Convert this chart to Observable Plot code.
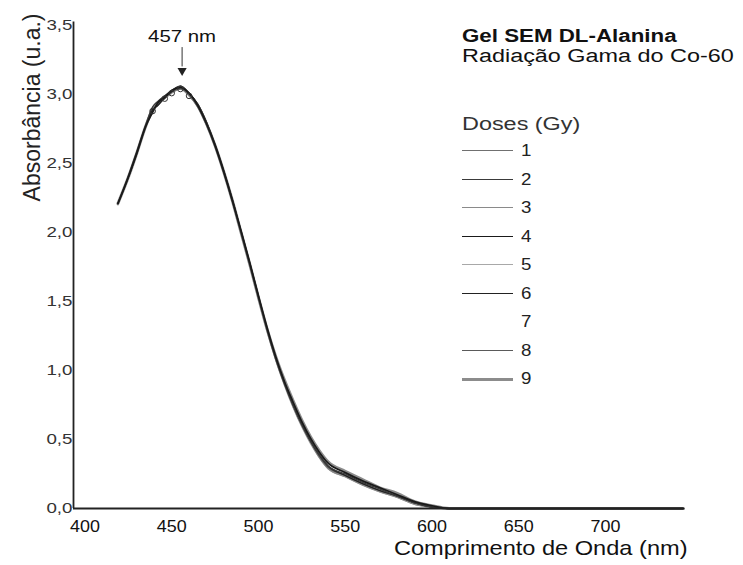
<!DOCTYPE html>
<html>
<head>
<meta charset="utf-8">
<script src="https://cdn.jsdelivr.net/npm/d3@7"></script>
<script src="https://cdn.jsdelivr.net/npm/@observablehq/plot@0.6"></script>
<style>
  html, body { margin: 0; padding: 0; background: #fff; }
  #wrap { position: relative; width: 743px; height: 565px; font-family: "Liberation Sans", Arial, sans-serif; overflow: hidden; }
  #wrap svg { position: absolute; left: 0; top: 0; }
  .lg { position: absolute; white-space: nowrap; transform-origin: 0 50%; line-height: 1; }
  .sw { position: absolute; height: 0; }
</style>
</head>
<body>
<div id="wrap"></div>
<script>
// ---- data ----
const wavelength = [419,425,430,435,439,442,446,450,455,460,465,470,475,480,485,490,495,500,505,510,515,520,525,530,535,540,550,560,570,580,590,600,610,650,700,745];
const dose1 = [2.21,2.40,2.58,2.77,2.89,2.93,2.98,3.02,3.05,3.00,2.92,2.79,2.63,2.44,2.23,2.00,1.77,1.53,1.29,1.08,0.90,0.74,0.60,0.48,0.38,0.30,0.24,0.18,0.13,0.09,0.04,0.01,0.00,0.00,0.00,0.00];
const dose2 = [2.21,2.41,2.59,2.78,2.91,2.95,2.99,3.03,3.06,3.01,2.93,2.80,2.63,2.44,2.23,2.00,1.77,1.53,1.30,1.09,0.91,0.75,0.61,0.49,0.39,0.31,0.25,0.19,0.14,0.09,0.04,0.01,0.00,0.00,0.00,0.00];
const dose3 = [2.20,2.40,2.58,2.76,2.88,2.92,2.97,3.01,3.04,2.99,2.91,2.78,2.62,2.43,2.22,1.99,1.76,1.52,1.29,1.08,0.90,0.74,0.60,0.48,0.37,0.29,0.23,0.17,0.12,0.08,0.03,0.01,0.00,0.00,0.00,0.00];
const dose4 = [2.21,2.40,2.58,2.77,2.87,2.94,2.98,3.03,3.05,3.01,2.92,2.79,2.63,2.44,2.23,2.01,1.78,1.54,1.31,1.10,0.92,0.77,0.63,0.51,0.41,0.33,0.26,0.20,0.15,0.10,0.05,0.02,0.00,0.00,0.00,0.00];
const dose5 = [2.22,2.41,2.59,2.78,2.90,2.93,2.99,3.02,3.05,3.00,2.92,2.79,2.62,2.43,2.22,2.00,1.76,1.52,1.28,1.07,0.89,0.73,0.59,0.47,0.37,0.29,0.23,0.17,0.12,0.08,0.03,0.01,0.00,0.00,0.00,0.00];
const dose6 = [2.21,2.40,2.58,2.77,2.89,2.92,2.98,3.02,3.06,3.01,2.93,2.80,2.64,2.45,2.24,2.01,1.78,1.54,1.30,1.09,0.91,0.75,0.61,0.49,0.39,0.31,0.24,0.18,0.13,0.09,0.04,0.01,0.00,0.00,0.00,0.00];
const dose7 = [2.21,2.40,2.58,2.77,2.89,2.93,2.98,3.02,3.05,3.00,2.92,2.79,2.63,2.44,2.23,2.00,1.77,1.53,1.29,1.08,0.90,0.74,0.60,0.48,0.38,0.30,0.24,0.18,0.13,0.09,0.04,0.01,0.00,0.00,0.00,0.00];
const dose8 = [2.21,2.40,2.57,2.76,2.88,2.93,2.97,3.02,3.04,3.00,2.91,2.78,2.62,2.43,2.22,1.99,1.76,1.52,1.29,1.08,0.90,0.75,0.61,0.49,0.38,0.30,0.24,0.18,0.13,0.09,0.04,0.01,0.00,0.00,0.00,0.00];
const dose9 = [2.21,2.40,2.58,2.77,2.89,2.94,2.98,3.02,3.05,3.00,2.92,2.79,2.63,2.44,2.23,2.00,1.77,1.53,1.30,1.10,0.93,0.78,0.64,0.52,0.42,0.34,0.27,0.21,0.15,0.11,0.05,0.02,0.00,0.00,0.00,0.00];
const doseLabels = ["1","2","3","4","5","6","7","8","9"];
const xTicks = [400,450,500,550,600,650,700];
const yTicks = [0,0.5,1.0,1.5,2.0,2.5,3.0,3.5];
const peakWavelength = 456;
const peakLabel = "457 nm";
const markerWavelengths = [439,446,450,455,460];
const xTitle = "Comprimento de Onda (nm)";
const yTitle = "Absorbância (u.a.)";
const legendTitle = "Gel SEM DL-Alanina";
const legendSubtitle = "Radiação Gama do Co-60";
const legendHeader = "Doses (Gy)";

// ---- styles ----
const series = [dose1,dose2,dose3,dose4,dose5,dose6,dose7,dose8,dose9];
const strokeColors = ["#707070","#3a3a3a","#8a8a8a","#1a1a1a","#a8a8a8","#222222","#ffffff","#5a5a5a","#8c8c8c"];
const strokeWidths = [1.3,1.3,1.3,1.7,1.2,1.3,1.3,1.1,3];
const drawOrder = [6,8,4,2,0,7,5,1,3];

const lineMarks = drawOrder.map(i => Plot.line(
  wavelength.map((w, j) => [w, series[i][j]]),
  {stroke: strokeColors[i], strokeWidth: strokeWidths[i], curve: "monotone-x"}
));

const markerData = markerWavelengths.map(w => [w, dose3[wavelength.indexOf(w)]]);

const plot = Plot.plot({
  width: 743,
  height: 565,
  marginLeft: 73,
  marginRight: 60,
  marginTop: 25,
  marginBottom: 57,
  style: {fontFamily: "Liberation Sans, Arial, sans-serif", color: "#222", background: "white"},
  x: {domain: [393.4, 745]},
  y: {domain: [0, 3.5]},
  marks: [
    Plot.axisX({ticks: xTicks, tickSize: 0, tickPadding: 12, fontSize: 16, label: null, tickFormat: d => String(d), fill: "#111"}),
    Plot.axisY({ticks: yTicks, tickSize: 0, tickPadding: 1, fontSize: 15, label: null, tickFormat: d => d.toFixed(1).replace(".", ","), fill: "#333"}),
    ...lineMarks,
    Plot.dot(markerData, {r: 2.8, stroke: "#333", strokeWidth: 1, fill: "none"}),
    Plot.ruleY([0], {stroke: "#222", strokeWidth: 1.8}),
    Plot.ruleX([393.4], {y1: 0, y2: 3.525, stroke: "#222", strokeWidth: 1.8}),
    Plot.ruleX([peakWavelength], {y1: 3.34, y2: 3.2, stroke: "#333", strokeWidth: 1}),
    Plot.dot([peakWavelength], {x: d => d, y: () => 3.172, symbol: "triangle", rotate: 180, r: 3.4, fill: "#222", stroke: "none"}),
    Plot.text([peakLabel], {x: () => peakWavelength, y: () => 3.42, fontSize: 17, fill: "#111"}),
    Plot.text([xTitle], {frameAnchor: "bottom-right", textAnchor: "end", dx: 4, dy: 46.5, fontSize: 20, fill: "#111"}),
    Plot.text([yTitle], {frameAnchor: "top-left", textAnchor: "end", rotate: -90, dx: -50, dy: -12, fontSize: 23, fill: "#222"})
  ]
});

// the scanned original has slightly wide lettering: widen the horizontal texts
function widenText(t, sx) {
  const tr = t.getAttribute("transform") || "";
  t.setAttribute("transform", `${tr} scale(${sx},1)`);
}
plot.querySelectorAll('g[aria-label="x-axis tick label"] text').forEach(t => widenText(t, 1.12));
plot.querySelectorAll('g[aria-label="y-axis tick label"] text').forEach(t => widenText(t, 1.25));
plot.querySelectorAll("text").forEach(t => {
  if (t.textContent === peakLabel) widenText(t, 1.2);
  else if (t.textContent === xTitle) widenText(t, 1.18);
});

const wrap = document.getElementById("wrap");
wrap.appendChild(plot);

// ---- legend (HTML, upper right) ----
function addText(txt, left, top, size, weight, color, sx) {
  const el = document.createElement("div");
  el.className = "lg";
  el.textContent = txt;
  el.style.left = left + "px";
  el.style.top = top + "px";
  el.style.fontSize = size + "px";
  el.style.fontWeight = weight;
  el.style.color = color;
  el.style.transform = `scaleX(${sx})`;
  wrap.appendChild(el);
}
addText(legendTitle, 462, 27, 18, "bold", "#111", 1.24);
addText(legendSubtitle, 462, 47, 18, "normal", "#111", 1.3);
addText(legendHeader, 462, 115, 18, "normal", "#333", 1.3);
doseLabels.forEach((d, i) => {
  const cy = 151 + i * 28.5;
  const sw = document.createElement("div");
  sw.className = "sw";
  sw.style.left = "462px";
  sw.style.width = "51px";
  sw.style.top = (cy - strokeWidths[i] / 2) + "px";
  sw.style.borderTop = `${strokeWidths[i]}px solid ${strokeColors[i]}`;
  wrap.appendChild(sw);
  addText(d, 521, cy - 8.6, 17, "normal", "#222", 1.1);
});
</script>
</body>
</html>
